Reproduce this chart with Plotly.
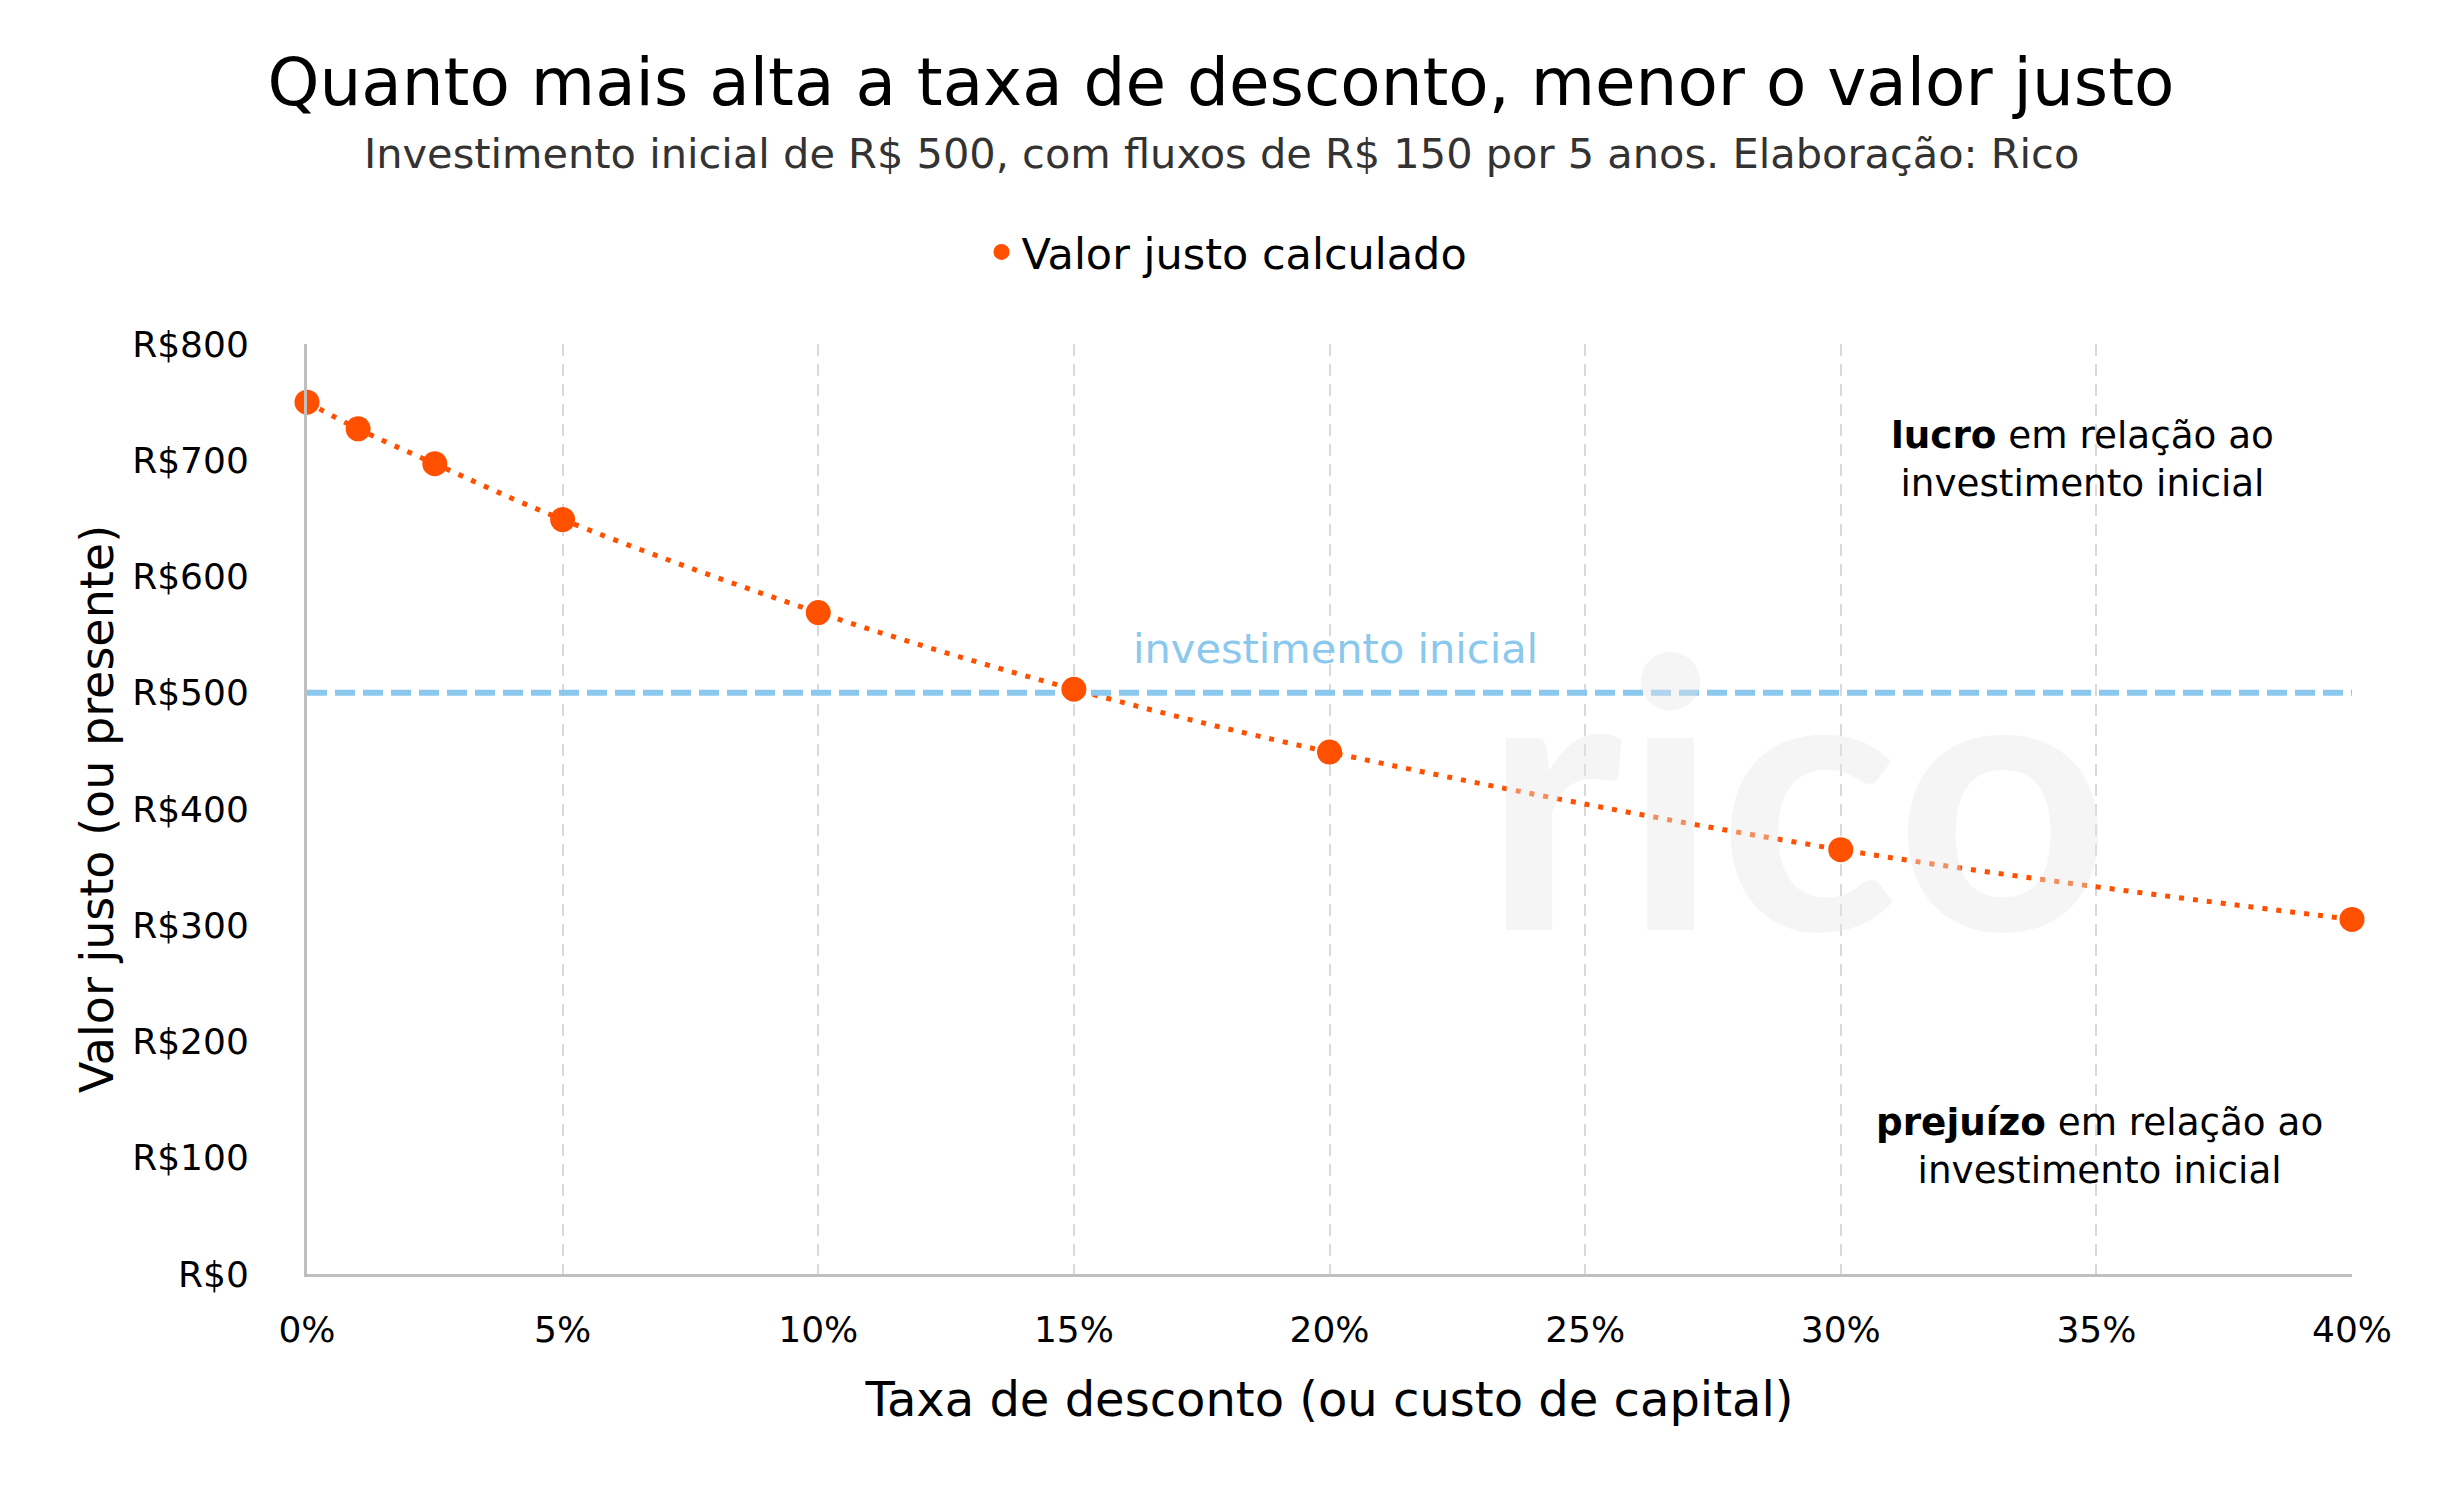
import plotly.graph_objects as go

# Data
rates = [0.0, 0.01, 0.025, 0.05, 0.10, 0.15, 0.20, 0.30, 0.40]
fair_values = [750, 727, 697, 649, 569, 503, 449, 365, 305]
initial_investment = 500
x_ticks = [0, 0.05, 0.10, 0.15, 0.20, 0.25, 0.30, 0.35, 0.40]
y_ticks = [0, 100, 200, 300, 400, 500, 600, 700, 800]
y_tick_labels = ["R$0", "R$100", "R$200", "R$300", "R$400", "R$500", "R$600", "R$700", "R$800"]

ORANGE = "#FF5000"
BLUE = "#8AC8EE"
FONT = "DejaVu Sans"

fig = go.Figure()

# dotted trend line through the points
fig.add_trace(go.Scatter(
    x=rates, y=fair_values, mode="lines",
    line=dict(color=ORANGE, width=5, dash="5px,9px", shape="spline", smoothing=1.0),
    showlegend=False, hoverinfo="skip", cliponaxis=False,
))

# initial investment reference line
fig.add_trace(go.Scatter(
    x=[x_ticks[0], x_ticks[-1]], y=[initial_investment, initial_investment], mode="lines",
    line=dict(color=BLUE, width=6, dash="20px,8px"),
    showlegend=False, hoverinfo="skip",
))

fig.add_trace(go.Scatter(
    x=rates, y=fair_values, mode="markers",
    marker=dict(color=ORANGE, size=25),
    name="Valor justo calculado", cliponaxis=False,
))

W, H = 2426, 1469
L, R, T, B = 299, 82, 336, 203
PW, PH = W - L - R, H - T - B

fig.update_layout(
    width=W, height=H,
    margin=dict(l=L, r=R, t=T, b=B),
    paper_bgcolor="white", plot_bgcolor="white",
    font=dict(family=FONT, color="#000000"),
    title=dict(
        text="Quanto mais alta a taxa de desconto, menor o valor justo",
        x=0.5, xanchor="center", y=1 - 74 / H, yanchor="middle", yref="container",
        font=dict(size=66, family=FONT, color="#000000"),
    ),
    legend=dict(
        orientation="h", x=(1219 - L) / PW, xanchor="center", y=(H - B - 244) / PH, yanchor="middle",
        font=dict(size=43, family=FONT, color="#000000"),
        itemsizing="trace",
    ),
    xaxis=dict(
        range=[0, 0.4], tickvals=x_ticks, tickformat=".0%",
        showgrid=True, gridcolor="#D9D9D9", gridwidth=2, griddash="12px,8px",
        showline=True, linecolor="#BFBFBF", linewidth=3,
        zeroline=False, ticks="", ticklabelstandoff=22,
        tickfont=dict(size=36, family=FONT, color="#000000"),
        title=dict(text="Taxa de desconto (ou custo de capital)", standoff=34,
                   font=dict(size=48, family=FONT, color="#000000")),
    ),
    yaxis=dict(
        range=[0, 800], tickvals=y_ticks, ticktext=y_tick_labels,
        showgrid=False, showline=True, linecolor="#BFBFBF", linewidth=3,
        zeroline=False, ticks="", ticklabelstandoff=48,
        tickfont=dict(size=36, family=FONT, color="#000000"),
        title=dict(text="Valor justo (ou presente)", standoff=5,
                   font=dict(size=46, family=FONT, color="#000000")),
    ),
    annotations=[
        dict(text="Investimento inicial de R$ 500, com fluxos de R$ 150 por 5 anos. Elaboração: Rico",
             xref="paper", yref="paper", x=(1213 - L) / PW, y=(H - B - 145) / PH,
             xanchor="center", yanchor="middle", showarrow=False,
             font=dict(size=41.5, family=FONT, color="#333333")),
        dict(text="investimento inicial", xref="x", yref="y", x=0.2011, y=538,
             xanchor="center", yanchor="middle", showarrow=False,
             font=dict(size=41.5, family=FONT, color=BLUE)),
        dict(text="<b>lucro</b> em relação ao<br>investimento inicial", xref="x", yref="y",
             x=0.3472, y=701, xanchor="center", yanchor="middle", showarrow=False,
             font=dict(size=37.3, family=FONT, color="#000000")),
        dict(text="<b>prejuízo</b> em relação ao<br>investimento inicial", xref="x", yref="y",
             x=0.3506, y=110, xanchor="center", yanchor="middle", showarrow=False,
             font=dict(size=37.3, family=FONT, color="#000000")),
        dict(text="<b>rico</b>", xref="x", yref="y", x=0.2914, y=421,
             xanchor="center", yanchor="middle", showarrow=False,
             font=dict(size=375, family="Lato", color="rgba(230,230,230,0.4)")),
    ],
)

fig.write_html("out.html")
